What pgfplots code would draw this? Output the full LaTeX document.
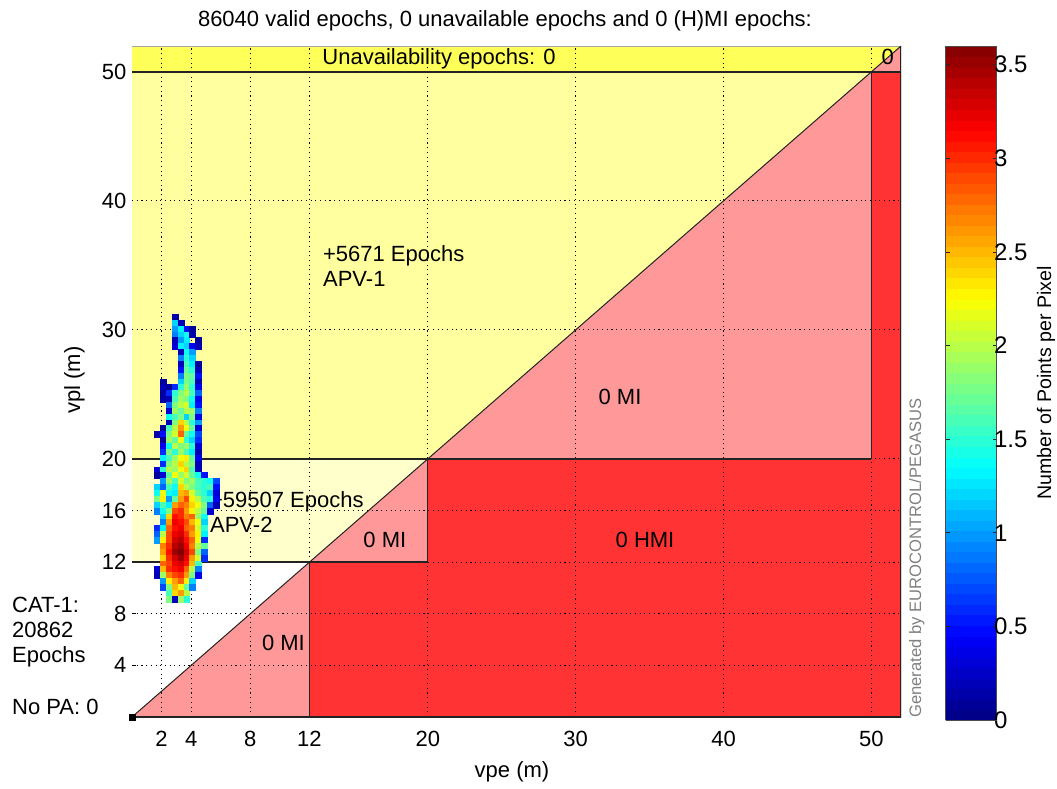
\documentclass[border=0pt]{standalone}
\usepackage{fontspec}
\setmainfont{Liberation Sans}
\usepackage{pgfplots}
\usepackage{pgfplotstable}
\pgfplotsset{compat=1.18}
\definecolor{bandY}{RGB}{255,255,89}
\definecolor{apvOne}{RGB}{255,255,160}
\definecolor{apvTwo}{RGB}{255,255,204}
\definecolor{miPink}{RGB}{255,153,153}
\definecolor{hmiRed}{RGB}{255,51,51}
\definecolor{edgeC}{RGB}{35,35,35}
\newcommand{\fs}[1]{\fontsize{#1}{#1}\selectfont}
\pgfplotsset{
  colormap={matjet}{rgb255(0cm)=(0,0,128) rgb255(1cm)=(0,0,255) rgb255(3cm)=(0,255,255) rgb255(5cm)=(255,255,0) rgb255(7cm)=(255,0,0) rgb255(8cm)=(128,0,0)},
  /pgf/number format/assume math mode=true,
  gridline/.style={black, line width=1.1pt, dash pattern=on 1.1pt off 3.6pt},
  edgeline/.style={edgeC, line width=1.4pt},
  heat/.style={scatter, only marks, mark=square*, mark size=2.95pt, line width=0.2pt,
    point meta=explicit,
    scatter/use mapped color={draw=mapped color, fill=mapped color}},
}
\pgfplotstableread{
y c0 c1 c2 c3 c4 c5 c6 c7 c8 c9 c10
31.000 nan nan nan 0.15 nan nan nan nan nan nan nan
30.545 nan nan nan 1.2 0.2 nan nan nan nan nan nan
30.090 nan nan nan 1.0 1.3 0.5 0.1 nan nan nan nan
29.635 nan nan nan 0.9 1.2 1.4 0.15 nan nan nan nan
29.180 nan nan nan 0.2 1.0 1.3 nan 0.1 nan nan nan
28.725 nan nan nan 0.3 1.3 1.2 0.4 0.2 nan nan nan
28.270 nan nan nan nan 0.2 1.4 1.0 nan nan nan nan
27.815 nan nan nan nan 0.9 1.5 1.2 nan nan nan nan
27.360 nan nan nan nan 0.2 1.6 1.3 0.1 nan nan nan
26.905 nan nan nan nan 0.5 1.7 1.5 0.2 nan nan nan
26.450 nan nan nan nan 0.9 1.8 1.7 0.5 nan nan nan
25.995 nan 0.1 nan nan 1.2 1.8 1.6 0.2 nan nan nan
25.540 nan 0.2 0.1 0.6 1.5 1.9 1.5 0.4 nan nan nan
25.085 nan 0.1 0.6 1.5 1.8 2.0 1.6 0.8 nan nan nan
24.630 nan 0.15 0.2 1.6 1.9 1.8 1.4 0.4 nan nan nan
24.175 nan nan 0.8 1.8 2.0 2.1 1.3 0.5 nan nan nan
23.720 nan nan 0.3 1.9 1.7 2.0 1.9 0.9 nan nan nan
23.265 nan nan 1.4 1.6 1.8 1.2 1.8 0.4 nan nan nan
22.810 nan nan 0.2 1.8 2.4 2.0 1.5 1.0 nan nan nan
22.355 nan 0.1 1.6 2.0 2.6 2.2 1.7 0.3 nan nan nan
21.900 0.15 0.5 1.8 2.1 2.8 1.7 1.4 0.7 nan nan nan
21.445 nan 0.1 1.9 1.7 2.2 1.5 1.2 0.6 nan nan nan
20.990 nan 0.4 1.4 2.0 1.8 1.9 1.5 0.3 nan nan nan
20.535 nan 0.6 1.8 1.5 1.9 1.6 1.3 0.2 nan nan nan
20.080 nan 1.3 1.6 1.9 2.2 2.3 1.7 0.4 nan nan nan
19.625 nan 0.6 1.8 2.0 2.4 2.0 1.8 0.2 nan nan nan
19.170 0.3 1.5 2.0 1.9 2.2 2.4 1.6 0.2 nan nan nan
18.715 0.1 0.3 1.7 2.2 1.9 2.1 1.7 1.4 0.5 nan nan
18.260 nan 1.0 1.9 1.6 2.1 1.8 1.9 1.6 1.5 1.4 0.7
17.805 1.2 0.8 1.6 1.4 2.4 2.0 1.8 1.6 1.5 1.6 0.5
17.350 1.4 2.2 1.4 1.3 2.5 2.6 2.1 1.7 1.5 1.2 0.3
16.895 1.8 2.3 1.0 1.7 2.6 2.9 2.3 2.0 1.6 1.5 0.4
16.440 1.2 1.6 1.3 2.6 2.8 2.7 2.4 2.2 1.8 0.8 0.2
15.985 0.9 1.4 1.8 2.9 3.0 2.6 2.3 2.0 1.7 0.3 nan
15.530 nan 1.2 2.4 3.1 3.0 2.7 2.8 1.9 1.4 nan nan
15.075 nan 0.9 2.6 3.2 3.1 2.9 2.5 2.2 1.2 nan nan
14.620 0.6 1.3 2.8 3.1 3.2 2.8 2.7 2.1 1.5 nan nan
14.165 0.8 2.0 2.9 3.2 3.3 3.0 2.6 2.3 1.3 nan nan
13.710 1.0 2.3 2.9 3.3 3.4 3.1 2.8 2.2 0.6 nan nan
13.255 nan 2.7 3.0 3.4 3.5 3.2 2.7 2.0 1.7 nan nan
12.800 nan 2.6 3.1 3.5 3.6 3.3 2.9 1.8 0.8 nan nan
12.345 nan 2.4 3.0 3.3 3.5 3.2 2.6 2.1 0.6 nan nan
11.890 nan 2.8 2.9 3.2 3.3 3.1 2.5 1.6 nan nan nan
11.435 0.3 2.5 3.0 3.1 3.2 2.8 2.0 0.9 nan nan nan
10.980 0.2 1.9 2.7 2.9 3.0 2.6 1.8 0.4 nan nan nan
10.525 nan 1.0 2.3 2.6 2.8 2.3 1.2 nan nan nan nan
10.070 nan 0.7 1.8 2.5 2.2 1.7 0.9 nan nan nan nan
9.615 nan nan 1.6 2.4 2.6 2.0 nan nan nan nan nan
9.160 nan nan 1.8 0.2 1.9 1.5 nan nan nan nan nan
}\heat
\begin{document}
\begin{tikzpicture}
\useasboundingbox (0pt,0pt) rectangle (1057pt,788pt);
\begin{axis}[
  name=ax,
  at={(132pt,71pt)}, anchor=south west,
  scale only axis, width=769pt, height=671pt,
  xmin=0, xmax=52, ymin=0, ymax=52,
  axis line style={draw=none},
  xtick={2,4,8,12,20,30,40,50},
  ytick={4,8,12,16,20,30,40,50},
  tick align=inside, tick pos=left,
  major tick length=4pt,
  tick style={black, line width=0.8pt},
  tick label style={font=\fs{22}},
  xticklabel style={yshift=-11pt},
  yticklabel style={xshift=-2pt},
  colormap name=matjet,
  point meta min=0, point meta max=3.6,
  colorbar sampled,
  colorbar style={
    samples=65,
    at={(parent axis.north east)}, anchor=north west, xshift=36pt,
    scale only axis, width=51pt, height=674pt,
    ytick={0,0.5,1,1.5,2,2.5,3,3.5},
    tick align=inside, ytick pos=both, yticklabel pos=right,
    major tick length=4pt,
    tick style={black!85, line width=0.8pt},
    axis line style={black!70, line width=0.8pt},
    yticklabel style={font=\fs{24}, xshift=-6pt},
    /pgf/number format/assume math mode=true,
  },
]
% regions
\addplot[fill=bandY, draw=none] coordinates {(0,50) (50,50) (52,52) (0,52)} -- cycle;
\addplot[fill=apvOne, draw=none] coordinates {(0,20) (20,20) (50,50) (0,50)} -- cycle;
\addplot[fill=apvTwo, draw=none] coordinates {(0,12) (12,12) (20,20) (0,20)} -- cycle;
\addplot[fill=miPink, draw=none] coordinates {(0,0) (12,0) (12,12)} -- cycle;
\addplot[fill=miPink, draw=none] coordinates {(12,12) (20,12) (20,20)} -- cycle;
\addplot[fill=miPink, draw=none] coordinates {(20,20) (50,20) (50,50)} -- cycle;
\addplot[fill=miPink, draw=none] coordinates {(50,50) (52,50) (52,52)} -- cycle;
\addplot[fill=hmiRed, draw=none] coordinates {(12,0) (52,0) (52,50) (50,50) (50,20) (20,20) (20,12) (12,12)} -- cycle;
% grid
\addplot[gridline] coordinates {(2,0) (2,52)};
\addplot[gridline] coordinates {(4,0) (4,52)};
\addplot[gridline] coordinates {(8,0) (8,52)};
\addplot[gridline] coordinates {(12,0) (12,52)};
\addplot[gridline] coordinates {(20,0) (20,52)};
\addplot[gridline] coordinates {(30,0) (30,52)};
\addplot[gridline] coordinates {(40,0) (40,52)};
\addplot[gridline] coordinates {(50,0) (50,52)};
\addplot[gridline] coordinates {(0,4) (52,4)};
\addplot[gridline] coordinates {(0,8) (52,8)};
\addplot[gridline] coordinates {(0,12) (52,12)};
\addplot[gridline] coordinates {(0,16) (52,16)};
\addplot[gridline] coordinates {(0,20) (52,20)};
\addplot[gridline] coordinates {(0,30) (52,30)};
\addplot[gridline] coordinates {(0,40) (52,40)};
\addplot[gridline] coordinates {(0,50) (52,50)};
% edges
\addplot[gray!70, line width=0.8pt] coordinates {(0,52) (52,52)};
\addplot[edgeline] coordinates {(0,50) (52,50)};
\addplot[edgeline] coordinates {(0,20) (50,20)};
\addplot[edgeline] coordinates {(0,12) (20,12)};
\addplot[edgeline] coordinates {(12,0) (12,12)};
\addplot[edgeline] coordinates {(20,12) (20,20)};
\addplot[edgeline] coordinates {(50,20) (50,50)};
\addplot[edgeline] coordinates {(0,0) (52,0) (52,52)};
\addplot[edgeC, line width=1pt] coordinates {(0,0) (52,52)};
\addplot[only marks, mark=square*, mark size=3pt, black] coordinates {(0,0)};
% texts
\node[font=\fs{22}, anchor=base, inner sep=0pt] at (axis cs:20.76,50.54) {Unavailability epochs: 0};
\node[font=\fs{22}, anchor=base, inner sep=0pt] at (axis cs:51.1,50.54) {0};
\node[font=\fs{22}, anchor=base west, inner sep=0pt] at (axis cs:12.91,35.27) {+5671 Epochs};
\node[font=\fs{22}, anchor=base west, inner sep=0pt] at (axis cs:12.91,33.33) {APV-1};
\node[font=\fs{22}, anchor=base west, inner sep=0pt] at (axis cs:5.27,16.2) {+59507 Epochs};
\node[font=\fs{22}, anchor=base west, inner sep=0pt] at (axis cs:5.27,14.26) {APV-2};
\node[font=\fs{22}, anchor=base, inner sep=0pt] at (axis cs:33.0,24.19) {0 MI};
\node[font=\fs{22}, anchor=base, inner sep=0pt] at (axis cs:17.1,13.1) {0 MI};
\node[font=\fs{22}, anchor=base, inner sep=0pt] at (axis cs:34.69,13.1) {0 HMI};
\node[font=\fs{22}, anchor=base, inner sep=0pt] at (axis cs:10.24,5.19) {0 MI};
% heat map
\addplot[heat] table[x expr=1.71, y expr=\thisrow{c0}/\thisrow{c0}*\thisrow{y}, meta=c0] {\heat};
\addplot[heat] table[x expr=2.11, y expr=\thisrow{c1}/\thisrow{c1}*\thisrow{y}, meta=c1] {\heat};
\addplot[heat] table[x expr=2.50, y expr=\thisrow{c2}/\thisrow{c2}*\thisrow{y}, meta=c2] {\heat};
\addplot[heat] table[x expr=2.90, y expr=\thisrow{c3}/\thisrow{c3}*\thisrow{y}, meta=c3] {\heat};
\addplot[heat] table[x expr=3.29, y expr=\thisrow{c4}/\thisrow{c4}*\thisrow{y}, meta=c4] {\heat};
\addplot[heat] table[x expr=3.69, y expr=\thisrow{c5}/\thisrow{c5}*\thisrow{y}, meta=c5] {\heat};
\addplot[heat] table[x expr=4.09, y expr=\thisrow{c6}/\thisrow{c6}*\thisrow{y}, meta=c6] {\heat};
\addplot[heat] table[x expr=4.48, y expr=\thisrow{c7}/\thisrow{c7}*\thisrow{y}, meta=c7] {\heat};
\addplot[heat] table[x expr=4.88, y expr=\thisrow{c8}/\thisrow{c8}*\thisrow{y}, meta=c8] {\heat};
\addplot[heat] table[x expr=5.27, y expr=\thisrow{c9}/\thisrow{c9}*\thisrow{y}, meta=c9] {\heat};
\addplot[heat] table[x expr=5.67, y expr=\thisrow{c10}/\thisrow{c10}*\thisrow{y}, meta=c10] {\heat};
\end{axis}
% outside texts
\node[font=\fs{22}, anchor=base, inner sep=0pt] at (505pt,761pt) {86040 valid epochs, 0 unavailable epochs and 0 (H)MI epochs:};
\node[font=\fs{22}, anchor=base, inner sep=0pt, rotate=90] at (80pt,408pt) {vpl (m)};
\node[font=\fs{22}, anchor=base, inner sep=0pt] at (512pt,11pt) {vpe (m)};
\node[font=\fs{19.6}, anchor=base, inner sep=0pt, rotate=90] at (1051pt,405pt) {Number of Points per Pixel};
\node[font=\fs{16.6}, text=gray, anchor=base west, inner sep=0pt, rotate=90] at (921pt,70pt) {Generated by EUROCONTROL/PEGASUS};
\node[font=\fs{22}, anchor=base west, inner sep=0pt] at (12pt,176pt) {CAT-1:};
\node[font=\fs{22}, anchor=base west, inner sep=0pt] at (12pt,151pt) {20862};
\node[font=\fs{22}, anchor=base west, inner sep=0pt] at (12pt,126pt) {Epochs};
\node[font=\fs{22}, anchor=base west, inner sep=0pt] at (12pt,74pt) {No PA: 0};
\end{tikzpicture}
\end{document}
